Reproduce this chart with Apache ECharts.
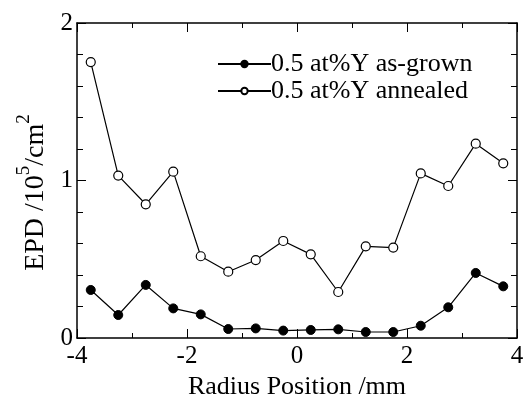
<!DOCTYPE html>
<html>
<head>
<meta charset="utf-8">
<script src="https://cdn.jsdelivr.net/npm/echarts@6/dist/echarts.min.js"></script>
<style>
  html, body { margin: 0; padding: 0; background: #fff; }
  #main { width: 523px; height: 396px; }
</style>
</head>
<body>
<div id="main"></div>
<script>
// radius positions (mm)
const positions = [-3.75, -3.25, -2.75, -2.25, -1.75, -1.25, -0.75, -0.25, 0.25, 0.75, 1.25, 1.75, 2.25, 2.75, 3.25, 3.75];
// EPD values (10^5/cm^2)
const asGrown = [0.305, 0.146, 0.337, 0.188, 0.150, 0.057, 0.061, 0.047, 0.051, 0.055, 0.038, 0.038, 0.078, 0.195, 0.413, 0.328];
const annealed = [1.752, 1.031, 0.849, 1.056, 0.519, 0.421, 0.495, 0.616, 0.531, 0.292, 0.582, 0.574, 1.045, 0.965, 1.234, 1.109];
const seriesNames = ["0.5 at%Y as-grown", "0.5 at%Y annealed"];
const xTicks = [-4, -2, 0, 2, 4];
const yTicks = [0, 1, 2];

const FONT = "'Liberation Serif', 'Times New Roman', serif";

const chart = echarts.init(document.getElementById("main"));

const pair = (xs, ys) => xs.map((x, i) => [x, ys[i]]);

// inward ticks on all four sides
const frameAxis = (extra) => Object.assign({
    type: "value",
    axisLine: { show: true, onZero: false, lineStyle: { color: "#000", width: 1.5 } },
    axisTick: { show: true, inside: true, length: 9, lineStyle: { color: "#000", width: 1 } },
    minorTick: { show: true, length: 5, lineStyle: { color: "#000", width: 1 } },
    splitLine: { show: false },
    axisLabel: { show: false }
}, extra);

const option = {
    backgroundColor: "#fff",
    animation: false,
    grid: { left: 77, right: 6, top: 23, bottom: 58, outerBoundsMode: "none" },
    legend: {
        orient: "vertical",
        left: 212,
        top: 46,
        itemWidth: 53,
        itemHeight: 8,
        itemGap: 1,
        textStyle: { fontFamily: FONT, fontSize: 26, color: "#000", lineHeight: 26, padding: [0, 0, 0, -5] },
        data: seriesNames
    },
    xAxis: [
        frameAxis({
            min: -4, max: 4, interval: 2,
            minorTick: { show: true, splitNumber: 2, length: 5, lineStyle: { color: "#000", width: 1 } },
            axisLabel: {
                show: true, color: "#000", fontFamily: FONT, fontSize: 25, margin: 6,
                formatter: v => xTicks.includes(v) ? String(v) : ""
            },
            name: "Radius Position /mm",
            nameLocation: "middle",
            nameGap: 36,
            nameTextStyle: { fontFamily: FONT, fontSize: 26, color: "#000" }
        }),
        frameAxis({
            position: "top", min: -4, max: 4, interval: 2,
            minorTick: { show: true, splitNumber: 2, length: 5, lineStyle: { color: "#000", width: 1 } }
        })
    ],
    yAxis: [
        frameAxis({
            min: 0, max: 2, interval: 1,
            minorTick: { show: true, splitNumber: 5, length: 6, lineStyle: { color: "#000", width: 1 } },
            axisLabel: {
                show: true, color: "#000", fontFamily: FONT, fontSize: 25, margin: 4,
                formatter: v => yTicks.includes(v) ? String(v) : ""
            },
            name: "{a|EPD /10}{s|5}{a|/cm}{s|2}",
            nameLocation: "middle",
            nameRotate: 90,
            nameGap: 20,
            nameTextStyle: {
                color: "#000",
                padding: [0, 24, 0, 0],
                rich: {
                    a: { fontFamily: FONT, fontSize: 28, color: "#000", lineHeight: 42 },
                    s: { fontFamily: FONT, fontSize: 19, color: "#000", lineHeight: 15, verticalAlign: "top" }
                }
            }
        }),
        frameAxis({
            position: "right", min: 0, max: 2, interval: 1,
            minorTick: { show: true, splitNumber: 5, length: 6, lineStyle: { color: "#000", width: 1 } }
        })
    ],
    series: [
        {
            name: seriesNames[0],
            type: "line",
            data: pair(positions, asGrown),
            symbol: "circle",
            symbolSize: 9,
            itemStyle: { color: "#000", borderColor: "#000", borderWidth: 1 },
            lineStyle: { color: "#000", width: 1.2 },
            z: 3
        },
        {
            name: seriesNames[1],
            type: "line",
            data: pair(positions, annealed),
            symbol: "circle",
            symbolSize: 9,
            itemStyle: { color: "#fff", borderColor: "#000", borderWidth: 1.2 },
            lineStyle: { color: "#000", width: 1.2 },
            z: 3
        }
    ]
};

chart.setOption(option);
</script>
</body>
</html>
